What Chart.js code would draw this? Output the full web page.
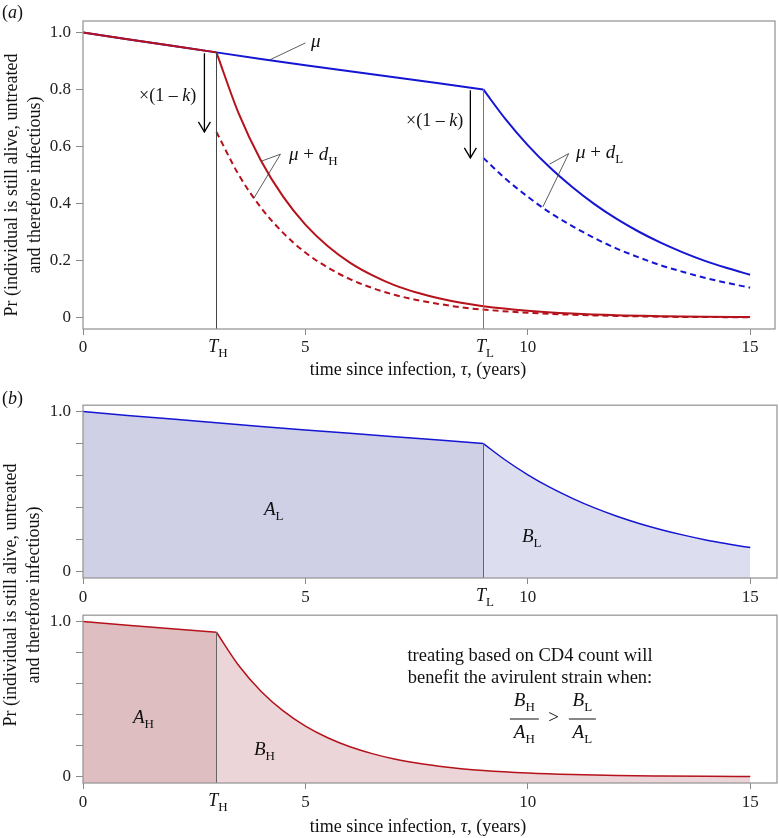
<!DOCTYPE html>
<html>
<head>
<meta charset="utf-8">
<script src="https://cdn.jsdelivr.net/npm/chart.js@4"></script>
<style>
  body { margin: 0; background: #fff; }
  #wrap { position: relative; width: 779px; height: 838px; background: #fff; overflow: hidden; }
  canvas { position: absolute; left: 0; }
  .lbl { position: absolute; font-family: 'Liberation Serif', serif; font-size: 18px; color: #111; white-space: nowrap; line-height: 1; }
  .c { transform: translate(-50%, -50%); }
  .l { transform: translateY(-50%); }
  .lbl sub { font-size: 13px; vertical-align: -5px; font-style: normal; }
  .ytitle { transform: translate(-50%, -50%) rotate(-90deg); text-align: center; line-height: 23px; }
  .frac { display: inline-block; text-align: center; vertical-align: middle; }
  .frac span { display: block; padding: 0 4px; line-height: 24px; }
  .frac .num { border-bottom: 1px solid #111; }
</style>
</head>
<body>
<div id="wrap">
  <canvas id="chartA" width="779" height="385" style="top:0"></canvas>
  <canvas id="chartB1" width="779" height="215" style="top:390px"></canvas>
  <canvas id="chartB2" width="779" height="238" style="top:600px"></canvas>

  <div class="lbl l" style="left:2px;top:12px">(<i>a</i>)</div>
  <div class="lbl l" style="left:2px;top:398px">(<i>b</i>)</div>

  <div class="lbl ytitle" style="left:23px;top:185px">Pr (individual is still alive, untreated<br>and therefore infectious)</div>
  <div class="lbl ytitle" style="left:22px;top:595px">Pr (individual is still alive, untreated<br>and therefore infectious)</div>

  <div class="lbl c" style="left:418px;top:369px">time since infection, <i>τ</i>, (years)</div>
  <div class="lbl c" style="left:418px;top:826px">time since infection, <i>τ</i>, (years)</div>

  <div class="lbl c" style="left:218px;top:348px"><i>T</i><sub>H</sub></div>
  <div class="lbl c" style="left:485px;top:348px"><i>T</i><sub>L</sub></div>
  <div class="lbl c" style="left:485px;top:597px"><i>T</i><sub>L</sub></div>
  <div class="lbl c" style="left:218px;top:802px"><i>T</i><sub>H</sub></div>

  <div class="lbl l" style="left:311px;top:40px;font-size:19px"><i>μ</i></div>
  <div class="lbl l" style="left:289px;top:155px;font-size:19px"><i>μ</i> + <i>d</i><sub>H</sub></div>
  <div class="lbl l" style="left:576px;top:153px;font-size:19px"><i>μ</i> + <i>d</i><sub>L</sub></div>
  <div class="lbl l" style="left:139px;top:95px">×(1 – <i>k</i>)</div>
  <div class="lbl l" style="left:406px;top:120px">×(1 – <i>k</i>)</div>

  <div class="lbl l" style="left:264px;top:510px;font-size:19px"><i>A</i><sub>L</sub></div>
  <div class="lbl l" style="left:522px;top:537px;font-size:19px"><i>B</i><sub>L</sub></div>
  <div class="lbl l" style="left:133px;top:718px;font-size:19px"><i>A</i><sub>H</sub></div>
  <div class="lbl l" style="left:254px;top:750px;font-size:19px"><i>B</i><sub>H</sub></div>

  <div class="lbl c" style="left:530px;top:655px;font-size:18.5px">treating based on CD4 count will</div>
  <div class="lbl c" style="left:530px;top:677px;font-size:18.5px">benefit the avirulent strain when:</div>
  <div class="lbl c" style="left:553px;top:719px;font-size:19px">
    <span class="frac"><span class="num"><i>B</i><sub>H</sub></span><span><i>A</i><sub>H</sub></span></span>
    &nbsp;&gt;&nbsp;
    <span class="frac"><span class="num"><i>B</i><sub>L</sub></span><span><i>A</i><sub>L</sub></span></span>
  </div>
</div>

<script>
// treatment thresholds (years)
const T_H = 3;
const T_L = 9;

// background mortality only (before treatment starts)
const tMu = [0, 1, 2, 3, 4, 5, 6, 7, 8, 9];
const pMu = [1.0, 0.976, 0.953, 0.93, 0.907, 0.885, 0.864, 0.843, 0.822, 0.80];

// virulent strain after T_H
const tHigh = [3, 3.5, 4, 4.5, 5, 5.5, 6, 6.5, 7, 7.5, 8, 8.5, 9, 10, 11, 12, 13, 14, 15];
const pHigh = [0.93, 0.716, 0.551, 0.424, 0.326, 0.251, 0.193, 0.149, 0.114, 0.088, 0.068, 0.052, 0.040, 0.024, 0.014, 0.008, 0.005, 0.003, 0.002];
const pHighTreated = [0.651, 0.501, 0.386, 0.297, 0.228, 0.176, 0.135, 0.104, 0.080, 0.062, 0.048, 0.036, 0.028, 0.017, 0.010, 0.006, 0.003, 0.002, 0.001];

// avirulent strain after T_L
const tLow = [9, 9.5, 10, 10.5, 11, 11.5, 12, 12.5, 13, 13.5, 14, 14.5, 15];
const pLow = [0.80, 0.696, 0.605, 0.526, 0.458, 0.398, 0.346, 0.301, 0.262, 0.228, 0.198, 0.173, 0.150];
const pLowTreated = [0.56, 0.487, 0.424, 0.368, 0.321, 0.279, 0.242, 0.211, 0.183, 0.160, 0.139, 0.121, 0.105];

const xTicks = [0, 5, 10, 15];
const yTicks = [0, 0.2, 0.4, 0.6, 0.8, 1.0];

const RED = '#b5121b';
const BLUE = '#1515d4';
const FONT = 'Liberation Serif';

const pts = (xs, ys) => xs.map((x, i) => ({ x: x, y: ys[i] }));
const upTo = (xs, ys, lim) => pts(xs, ys).filter(p => p.x <= lim);

const framePlugin = {
  id: 'frame',
  afterDraw(chart) {
    const a = chart.chartArea, ctx = chart.ctx;
    ctx.save();
    ctx.strokeStyle = '#999';
    ctx.lineWidth = 1.3;
    ctx.strokeRect(a.left, a.top, a.right - a.left, a.bottom - a.top);
    ctx.restore();
  }
};

function line(ctx, x1, y1, x2, y2) {
  ctx.beginPath(); ctx.moveTo(x1, y1); ctx.lineTo(x2, y2); ctx.stroke();
}

// vertical marker at a treatment threshold, up to the curve
function vlinePlugin(id, t, v, color) {
  return {
    id: id,
    afterDatasetsDraw(chart) {
      const x = chart.scales.x, y = chart.scales.y, ctx = chart.ctx;
      const px = Math.round(x.getPixelForValue(t)) + 0.5;
      ctx.save();
      ctx.strokeStyle = color;
      ctx.lineWidth = 1;
      line(ctx, px, chart.chartArea.bottom, px, y.getPixelForValue(v));
      ctx.restore();
    }
  };
}

function scaleOpts(xMax, xHeight, xPad, yLabelled) {
  return {
    x: {
      type: 'linear', min: 0, max: xMax,
      afterFit: s => { s.height = xHeight; },
      afterBuildTicks: s => { s.ticks = xTicks.map(v => ({ value: v })); },
      grid: { display: true, drawOnChartArea: false, drawTicks: true, tickLength: 6, color: '#888' },
      border: { display: false },
      ticks: { autoSkip: false, maxRotation: 0, padding: xPad, color: '#222', font: { family: FONT, size: 17 },
               callback: v => String(v) }
    },
    y: {
      type: 'linear', min: -0.04, max: 1.04,
      afterFit: s => { s.width = 83; },
      afterBuildTicks: s => { s.ticks = yTicks.map(v => ({ value: v })); },
      grid: { display: true, drawOnChartArea: false, drawTicks: true, tickLength: 7, color: '#888' },
      border: { display: false },
      ticks: { autoSkip: false, padding: 5, color: '#222', font: { family: FONT, size: 17 },
               callback: v => yLabelled.includes(v) ? (v === 0 ? '0' : v.toFixed(1)) : '' }
    }
  };
}

const common = {
  responsive: false,
  animation: false,
  events: [],
  elements: { point: { radius: 0 } },
  plugins: { legend: { display: false }, tooltip: { enabled: false } }
};

// ----- panel (a) -----
const muAtH = pMu[tMu.indexOf(T_H)];
const muAtL = pMu[tMu.indexOf(T_L)];

const annoA = {
  id: 'annoA',
  afterDatasetsDraw(chart) {
    const x = chart.scales.x, y = chart.scales.y, ctx = chart.ctx;
    const P = (t, v) => [x.getPixelForValue(t), y.getPixelForValue(v)];
    ctx.save();
    // leader lines
    ctx.strokeStyle = '#333';
    ctx.lineWidth = 0.8;
    line(ctx, ...P(4.19, 0.903), ...P(5.0, 0.963));
    line(ctx, ...P(4.44, 0.573), ...P(4.02, 0.549));
    line(ctx, ...P(4.44, 0.573), ...P(3.84, 0.418));
    line(ctx, ...P(10.92, 0.575), ...P(10.49, 0.538));
    line(ctx, ...P(10.92, 0.575), ...P(10.34, 0.388));
    // treatment arrows
    ctx.strokeStyle = '#000';
    ctx.lineWidth = 1.3;
    [[T_H - 0.27, muAtH, pHighTreated[0]], [T_L - 0.29, muAtL, pLowTreated[0]]].forEach(a => {
      const [x1, y1] = P(a[0], a[1] - 0.003);
      const [x2, y2] = P(a[0], a[2]);
      line(ctx, x1, y1, x2, y2);
      ctx.beginPath();
      ctx.moveTo(x2 - 6, y2 - 10); ctx.lineTo(x2, y2); ctx.lineTo(x2 + 6, y2 - 10);
      ctx.stroke();
    });
    ctx.restore();
  }
};

new Chart(document.getElementById('chartA'), {
  type: 'line',
  data: {
    datasets: [
      { data: pts(tMu, pMu), borderColor: BLUE, borderWidth: 2, order: 3 },
      { data: pts(tLow, pLow), borderColor: BLUE, borderWidth: 2, cubicInterpolationMode: 'monotone', order: 3 },
      { data: pts(tLow, pLowTreated), borderColor: BLUE, borderWidth: 2, borderDash: [6, 4], cubicInterpolationMode: 'monotone', order: 3 },
      { data: upTo(tMu, pMu, T_H), borderColor: RED, borderWidth: 2, order: 1 },
      { data: pts(tHigh, pHigh), borderColor: RED, borderWidth: 2, cubicInterpolationMode: 'monotone', order: 1 },
      { data: pts(tHigh, pHighTreated), borderColor: RED, borderWidth: 2, borderDash: [6, 4], cubicInterpolationMode: 'monotone', order: 1 }
    ]
  },
  options: Object.assign({}, common, {
    layout: { padding: { left: 0, right: 4, top: 21, bottom: 0 } },
    scales: scaleOpts(15.56, 56, 2, yTicks)
  }),
  plugins: [vlinePlugin('vA1', T_H, muAtH, '#444'), vlinePlugin('vA2', T_L, muAtL, '#777'), annoA, framePlugin]
});

// ----- panel (b), avirulent strain -----
new Chart(document.getElementById('chartB1'), {
  type: 'line',
  data: {
    datasets: [
      { data: pts(tMu, pMu), borderColor: BLUE, borderWidth: 1.5, fill: 'start', backgroundColor: '#cfd0e6' },
      { data: pts(tLow, pLow), borderColor: BLUE, borderWidth: 1.5, fill: 'start', backgroundColor: '#dcddee', cubicInterpolationMode: 'monotone' }
    ]
  },
  options: Object.assign({}, common, {
    layout: { padding: { left: 0, right: 2, top: 15, bottom: 0 } },
    scales: scaleOpts(15.6, 27, 3, [0, 1.0])
  }),
  plugins: [vlinePlugin('vB1', T_L, muAtL, '#666'), framePlugin]
});

// ----- panel (b), virulent strain -----
new Chart(document.getElementById('chartB2'), {
  type: 'line',
  data: {
    datasets: [
      { data: upTo(tMu, pMu, T_H), borderColor: RED, borderWidth: 1.5, fill: 'start', backgroundColor: '#dfbec1' },
      { data: pts(tHigh, pHigh), borderColor: RED, borderWidth: 1.5, fill: 'start', backgroundColor: '#ecd5d8', cubicInterpolationMode: 'monotone' }
    ]
  },
  options: Object.assign({}, common, {
    layout: { padding: { left: 0, right: 2, top: 11, bottom: 0 } },
    scales: scaleOpts(15.6, 55, 3, [0, 1.0])
  }),
  plugins: [vlinePlugin('vB2', T_H, muAtH, '#666'), framePlugin]
});
</script>
</body>
</html>
